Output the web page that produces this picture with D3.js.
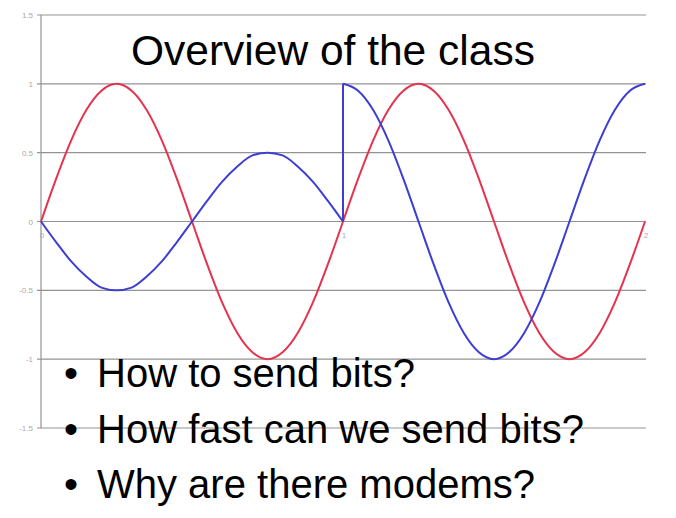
<!DOCTYPE html>
<html>
<head>
<meta charset="utf-8">
<script src="https://cdn.jsdelivr.net/npm/d3@7.9.0/dist/d3.min.js"></script>
<style>
  body { margin: 0; background: #fff; }
  svg { display: block; }
</style>
</head>
<body>
<svg id="chart"></svg>
<script>
const width = 676;
const height = 518;

// values, x step 0.05
const xHalf1 = [0, 0.05, 0.1, 0.15, 0.2, 0.25, 0.3, 0.35, 0.4, 0.45, 0.5, 0.55, 0.6, 0.65, 0.7, 0.75, 0.8, 0.85, 0.9, 0.95, 1];
const xHalf2 = [1, 1.05, 1.1, 1.15, 1.2, 1.25, 1.3, 1.35, 1.4, 1.45, 1.5, 1.55, 1.6, 1.65, 1.7, 1.75, 1.8, 1.85, 1.9, 1.95, 2];
const redFirst = [0, 0.31, 0.59, 0.81, 0.95, 1, 0.95, 0.81, 0.59, 0.31, 0, -0.31, -0.59, -0.81, -0.95, -1, -0.95, -0.81, -0.59, -0.31, 0];
const redSecond = [0, 0.31, 0.59, 0.81, 0.95, 1, 0.95, 0.81, 0.59, 0.31, 0, -0.31, -0.59, -0.81, -0.95, -1, -0.95, -0.81, -0.59, -0.31, 0];
const blueFirst = [0, -0.15, -0.29, -0.4, -0.48, -0.5, -0.48, -0.4, -0.29, -0.15, 0, 0.15, 0.29, 0.4, 0.48, 0.5, 0.48, 0.4, 0.29, 0.15, 0];
const blueSecond = [1, 0.95, 0.81, 0.59, 0.31, 0, -0.31, -0.59, -0.81, -0.95, -1, -0.95, -0.81, -0.59, -0.31, 0, 0.31, 0.59, 0.81, 0.95, 1];

const yTicks = [1.5, 1, 0.5, 0, -0.5, -1, -1.5];
const yTickLabels = ["1.5", "1", "0.5", "0", "-0.5", "-1", "-1.5"];
const xTicks = [0, 1, 2];

const title = "Overview of the class";
const bullets = ["How to send bits?", "How fast can we send bits?", "Why are there modems?"];

const svg = d3.select("#chart").attr("width", width).attr("height", height);

const x = d3.scaleLinear().domain([0, 2]).range([41, 645]);
const y = d3.scaleLinear().domain([-1.5, 1.5]).range([428, 15]);

// grid lines
svg.append("g").selectAll("line")
    .data(yTicks)
    .join("line")
    .attr("x1", x(0) - 4)
    .attr("x2", x(2) + 1)
    .attr("y1", d => y(d))
    .attr("y2", d => y(d))
    .attr("stroke", "#939393")
    .attr("stroke-width", 1.2);

// left axis line
svg.append("line")
    .attr("x1", x(0)).attr("x2", x(0))
    .attr("y1", y(1.5)).attr("y2", y(-1.5))
    .attr("stroke", "#939393")
    .attr("stroke-width", 1.2);

// y labels
svg.append("g").selectAll("text")
    .data(yTicks)
    .join("text")
    .attr("x", x(0) - 8)
    .attr("y", d => y(d) + 3)
    .attr("text-anchor", "end")
    .style("font-family", "'Liberation Sans', Arial, sans-serif")
    .style("font-size", "8px")
    .attr("fill", "#aaa")
    .text((d, i) => yTickLabels[i]);

// x labels
svg.append("g").selectAll("text")
    .data(xTicks)
    .join("text")
    .attr("x", d => x(d) + 1)
    .attr("y", y(0) + 16)
    .attr("text-anchor", "middle")
    .style("font-family", "'Liberation Sans', Arial, sans-serif")
    .style("font-size", "8px")
    .attr("fill", "#aaa")
    .text(d => d);

const line = d3.line()
    .x(d => x(d[0]))
    .y(d => y(d[1]))
    .curve(d3.curveMonotoneX);

const zip = (xs, vs) => xs.map((v, i) => [v, vs[i]]);

const red = "#e5334d";
const blue = "#3d3dd4";

[zip(xHalf1, redFirst), zip(xHalf2, redSecond)].forEach(pts => {
    svg.append("path")
        .attr("d", line(pts))
        .attr("fill", "none")
        .attr("stroke", red)
        .attr("stroke-width", 2);
});

const blueA = zip(xHalf1, blueFirst);
const blueB = zip(xHalf2, blueSecond);
[blueA, blueB, [blueA[blueA.length - 1], blueB[0]]].forEach(pts => {
    svg.append("path")
        .attr("d", d3.line().x(d => x(d[0])).y(d => y(d[1])).curve(pts.length > 2 ? d3.curveMonotoneX : d3.curveLinear)(pts))
        .attr("fill", "none")
        .attr("stroke", blue)
        .attr("stroke-width", 2);
});

// title
svg.append("text")
    .attr("x", 131)
    .attr("y", 65)
    .style("font-family", "'Liberation Sans', Arial, sans-serif")
    .style("font-size", "42.5px")
    .attr("fill", "#000")
    .text(title);

// bullet list
const bl = svg.append("g").selectAll("g")
    .data(bullets)
    .join("g")
    .attr("transform", (d, i) => `translate(0, ${387 + i * 55.5})`);

bl.append("text")
    .attr("x", 64)
    .attr("y", 0)
    .style("font-family", "'Liberation Sans', Arial, sans-serif")
    .style("font-size", "40px")
    .text("•");

bl.append("text")
    .attr("x", 97)
    .attr("y", 0)
    .style("font-family", "'Liberation Sans', Arial, sans-serif")
    .style("font-size", "40px")
    .text(d => d);
</script>
</body>
</html>
